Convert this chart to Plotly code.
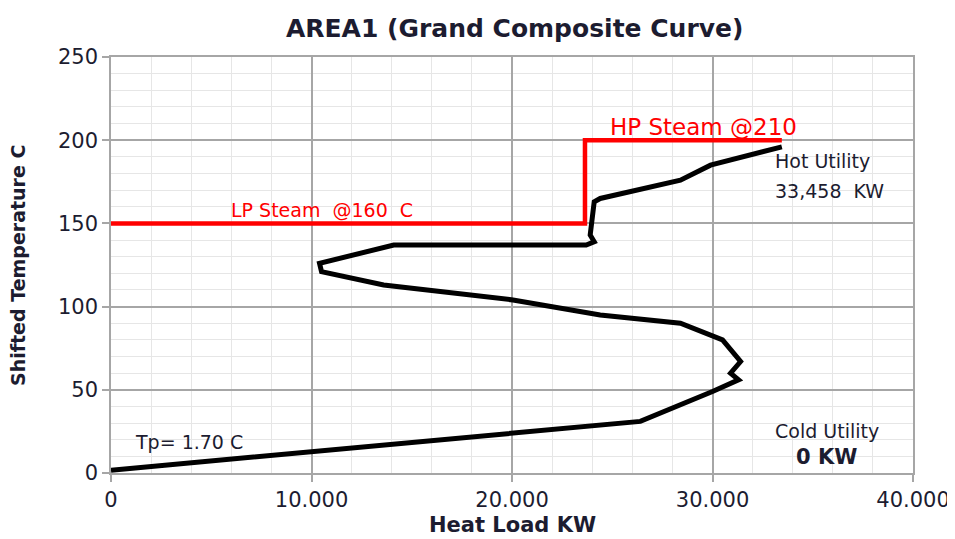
import plotly.graph_objects as go

# ── Data ────────────────────────────────────────────────────────────────────
gcc_heat = [0, 26400, 30000, 31300, 30900, 31400, 30500, 28400, 24400, 20050,
            13600, 10500, 10400, 14100, 23700, 24100, 23900, 24100, 24400,
            28400, 29900, 33458]
gcc_temp = [1.7, 31, 49, 56, 60, 67, 80, 90, 95, 104,
            113, 121, 126, 137, 137, 139, 143, 163, 165,
            176, 185, 196]

steam_heat = [0, 23640, 23640, 33458]
steam_temp = [150, 150, 200, 200]

x_ticks = [0, 10000, 20000, 30000, 40000]
x_tick_text = ["0", "10.000", "20.000", "30.000", "40.000"]
y_ticks = [0, 50, 100, 150, 200, 250]

FONT = "DejaVu Sans"
TXT = "#1c1c30"
GRID = "#a6a6a6"
MINOR = "#e6e6e6"

fig = go.Figure()

fig.add_trace(go.Scatter(
    x=steam_heat, y=steam_temp, mode="lines",
    line=dict(color="#ff0000", width=4.5), hoverinfo="skip",
))
fig.add_trace(go.Scatter(
    x=gcc_heat, y=gcc_temp, mode="lines",
    line=dict(color="#000000", width=5),
))

# ── text labels on the plot ─────────────────────────────────────────────────
labels = [
    ("LP Steam  @160  C", 5900, 158, 19, "#ff0000", "left"),
    ("HP Steam @210", 24800, 208, 23, "#ff0000", "left"),
    ("Hot Utility", 33000, 187.5, 19, TXT, "left"),
    ("33,458  KW", 33000, 169.5, 19, TXT, "left"),
    ("Cold Utility", 35700, 25, 19, TXT, "center"),
    ("Tp= 1.70 C", 1100, 18.6, 19, TXT, "left"),
]
for text, x, y, size, color, anchor in labels:
    fig.add_annotation(
        x=x, y=y, text=text, showarrow=False, xanchor=anchor, yanchor="middle",
        font=dict(family=FONT, size=size, color=color),
    )
fig.add_annotation(
    x=35700, y=9.6, text="<b>0 KW</b>", showarrow=False, xanchor="center",
    yanchor="middle", font=dict(family=FONT, size=21, color=TXT),
)

# axis titles placed by hand
fig.add_annotation(
    x=0.5, y=-0.125, xref="paper", yref="paper", text="<b>Heat Load KW</b>",
    showarrow=False, xanchor="center", yanchor="middle",
    font=dict(family=FONT, size=21, color=TXT),
)
fig.add_annotation(
    x=-0.116, y=0.5, xref="paper", yref="paper", text="<b>Shifted Temperature C</b>",
    showarrow=False, textangle=-90, xanchor="center", yanchor="middle",
    font=dict(family=FONT, size=19, color=TXT),
)

axis_common = dict(
    showline=True, linecolor=GRID, linewidth=1.5, mirror=True,
    showgrid=True, gridcolor=GRID, gridwidth=1.5,
    ticks="outside", ticklen=7, tickcolor=GRID, tickwidth=1.5,
    zeroline=False, automargin=False,
    tickfont=dict(family=FONT, size=21, color=TXT),
)

# page body has an 8px margin, so the figure is sized to fit inside it
fig.update_layout(
    width=947, height=531,
    margin=dict(l=103, r=42, t=49, b=66),
    paper_bgcolor="#FFFFFF",
    plot_bgcolor="#FFFFFF",
    showlegend=False,
    title=dict(
        text="<b>AREA1 (Grand Composite Curve)</b>",
        x=0.535, xanchor="center", y=1 - 20 / 531, yanchor="middle",
        yref="container",
        font=dict(family=FONT, size=25, color=TXT),
    ),
    xaxis=dict(
        range=[0, 40000], tickvals=x_ticks, ticktext=x_tick_text,
        minor=dict(dtick=2000, showgrid=True, gridcolor=MINOR, gridwidth=1),
        **axis_common,
    ),
    yaxis=dict(
        range=[0, 250], tickvals=y_ticks,
        minor=dict(dtick=10, showgrid=True, gridcolor=MINOR, gridwidth=1),
        **axis_common,
    ),
)

fig.write_html("out.html")
